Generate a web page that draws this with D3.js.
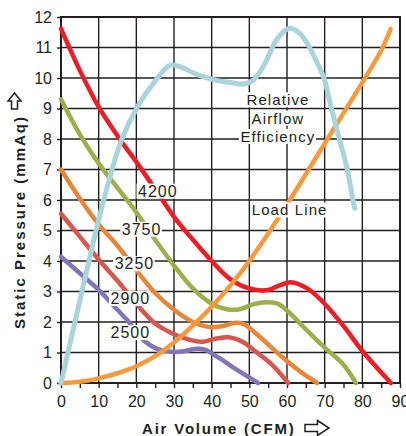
<!DOCTYPE html>
<html><head><meta charset="utf-8">
<script src="https://cdn.jsdelivr.net/npm/d3@7"></script>
<style>
html,body{margin:0;padding:0;background:#fff;}
svg{display:block;font-family:"Liberation Sans",Arial,Helvetica,sans-serif;}
</style></head><body>
<svg id="chart" width="406" height="436"></svg>
<script>
// ---------- data ----------
const xTickValues = [0,10,20,30,40,50,60,70,80,90];
const yTickValues = [0,1,2,3,4,5,6,7,8,9,10,11,12];
const speedLabels = ["4200","3750","3250","2900","2500"];

const curve4200 = [[0,11.62],[5,10.25],[10,9.05],[15,8.1],[20,7.25],[25,6.35],[30,5.45],[35,4.7],[40,4.0],[45,3.4],[50,3.1],[55,3.05],[58,3.2],[61,3.3],[63.5,3.22],[66,3.05],[70,2.6],[75,1.87],[80,1.05],[87.6,0]];
const curve3750 = [[0,9.3],[5,8.15],[10,7.2],[15,6.4],[20,5.6],[25,4.7],[30,3.85],[35,3.1],[40,2.6],[44,2.42],[47.5,2.42],[51,2.58],[54.5,2.65],[57.5,2.6],[60.5,2.32],[65,1.76],[70,1.16],[75,0.6],[78.3,0]];
const curve3250 = [[0,7.0],[5,6.05],[10,5.2],[15,4.5],[20,3.7],[25,2.95],[30,2.4],[35,2.0],[40,1.83],[43,1.87],[46,1.97],[48.5,1.93],[52,1.6],[56,1.15],[60,0.72],[64,0.33],[68,0]];
const curve2900 = [[0,5.55],[5,4.8],[10,4.05],[15,3.35],[20,2.6],[25,1.95],[30,1.6],[34,1.42],[37.5,1.35],[41,1.45],[44.5,1.5],[48.5,1.33],[52,1.0],[56,0.6],[60.3,0]];
const curve2500 = [[0,4.14],[5,3.6],[10,3.05],[15,2.4],[18,2.0],[21.5,1.45],[25.5,1.12],[30,1.02],[33,1.05],[36,1.12],[38.5,1.08],[40.5,0.93],[42.5,0.78],[45,0.57],[48,0.33],[52.3,0]];
const loadLine = [[0,0],[5,0.04],[10,0.15],[15,0.32],[20,0.55],[25,0.88],[30,1.33],[35,1.88],[40,2.5],[45,3.2],[50,4.0],[55,4.9],[60,5.85],[65,6.85],[70,7.85],[75,8.85],[80,9.85],[85,10.9],[87.5,11.6]];
const efficiency = [[0,0],[5,2.7],[10,5.35],[13,6.75],[16,7.95],[20.5,9.1],[25,9.9],[29,10.42],[32,10.35],[36,10.12],[41,9.93],[45,9.85],[48,9.8],[51,9.93],[54,10.45],[57.5,11.3],[60.7,11.63],[63.5,11.45],[66,11.0],[68,10.5],[69.8,10],[71.8,9],[73.9,8],[76,7],[77.5,6],[78,5.73]];

// label anchors (data units)
const speedLabelAt = [[25.7,6.3],[21.4,5.05],[19.5,3.92],[18.4,2.78],[18.4,1.66]];
const effLabelLines = ["Relative","Airflow","Efficiency"];
const effLabelAt = [[57.6,9.28],[57.6,8.68],[57.6,8.08]];
const loadLabel = "Load Line";
const loadLabelAt = [60.7,5.67];

// ---------- chart ----------
const svg = d3.select("#chart");
const x = d3.scaleLinear().domain([0,90]).range([61,400]);
const y = d3.scaleLinear().domain([0,12]).range([383,17]);
const ink = "#231f20";

// grid
const grid = svg.append("g");
grid.selectAll("line.v").data(xTickValues).join("line")
  .attr("x1",d=>x(d)).attr("x2",d=>x(d)).attr("y1",y(0)).attr("y2",y(12))
  .attr("stroke",ink).attr("stroke-width",1.4);
grid.selectAll("line.h").data(yTickValues).join("line")
  .attr("x1",x(0)).attr("x2",x(90)).attr("y1",d=>y(d)).attr("y2",d=>y(d))
  .attr("stroke",ink).attr("stroke-width",1.4);
svg.append("rect").attr("x",x(0)).attr("y",y(12)).attr("width",x(90)-x(0)).attr("height",y(0)-y(12))
  .attr("fill","none").attr("stroke",ink).attr("stroke-width",2);

// axes
const xAxis = d3.axisBottom(x).tickValues(d3.range(0,91,5)).tickSize(5).tickPadding(8)
  .tickFormat(d => d % 10 === 0 ? d : "");
const gx = svg.append("g").attr("transform",`translate(0,${y(0)})`).call(xAxis);
gx.select(".domain").remove();
gx.selectAll(".tick line").attr("stroke",ink).attr("stroke-width",1.4);
gx.selectAll(".tick text").attr("fill",ink).style("font-size","16px").style("font-family","Liberation Sans, Arial, sans-serif");

const yAxis = d3.axisLeft(y).tickValues(yTickValues).tickSize(4).tickPadding(5);
const gy = svg.append("g").attr("transform",`translate(${x(0)},0)`).call(yAxis);
gy.select(".domain").remove();
gy.selectAll(".tick line").attr("stroke",ink).attr("stroke-width",1.4);
gy.selectAll(".tick text").attr("fill",ink).style("font-size","16px").style("font-family","Liberation Sans, Arial, sans-serif");

// curves
const line = d3.line().x(d=>x(d[0])).y(d=>y(d[1])).curve(d3.curveCatmullRom.alpha(0.5));
const fanCurves = [
  {data: curve2500, color:"#8474b8"},
  {data: curve2900, color:"#d85650"},
  {data: curve3250, color:"#e6873b"},
  {data: curve3750, color:"#9bb04d"},
  {data: curve4200, color:"#ee1c24"}
];
const cg = svg.append("g");
fanCurves.forEach(c => {
  cg.append("path").attr("d",line(c.data)).attr("fill","none")
    .attr("stroke",c.color).attr("stroke-width",4.5).attr("stroke-linecap","round").attr("stroke-linejoin","round");
});
cg.append("path").attr("d",line(loadLine)).attr("fill","none")
  .attr("stroke","#f69a3b").attr("stroke-width",4.5).attr("stroke-linecap","round");
cg.append("path").attr("d",line(efficiency)).attr("fill","none")
  .attr("stroke","#a9d4dc").attr("stroke-width",5).attr("stroke-linecap","round").attr("stroke-linejoin","round");

// labels with white backgrounds
function boxedLabel(txt, px, py, size, ls){
  const g = svg.append("g");
  const r = g.append("rect").attr("fill","#fff");
  const t = g.append("text").attr("x",px).attr("y",py).attr("dy","0.36em")
    .attr("text-anchor","middle").attr("fill",ink)
    .style("font-size",size+"px").style("letter-spacing",ls+"px").text(txt);
  const b = t.node().getBBox();
  r.attr("x",b.x-1.5).attr("y",b.y+1).attr("width",b.width+2).attr("height",b.height-2);
}
speedLabels.forEach((s,i) => boxedLabel(s, x(speedLabelAt[i][0]), y(speedLabelAt[i][1]), 16, 1));
effLabelLines.forEach((s,i) => boxedLabel(s, x(effLabelAt[i][0]), y(effLabelAt[i][1]), 15, 1.1));
boxedLabel(loadLabel, x(loadLabelAt[0]), y(loadLabelAt[1]), 15, 1.1);

// axis titles
svg.append("text").attr("x",142).attr("y",433.5).attr("fill",ink)
  .style("font-size","15px").style("font-weight","bold").style("letter-spacing","1.8px")
  .text("Air Volume (CFM)");
svg.append("path")
  .attr("d","M305,424.5 H317.5 V420.5 L329,428 L317.5,435.5 V431.5 H305 Z")
  .attr("fill","#fff").attr("stroke",ink).attr("stroke-width",1.5).attr("stroke-linejoin","miter");

svg.append("text").attr("transform","translate(25,222) rotate(-90)").attr("text-anchor","middle")
  .attr("fill",ink).style("font-size","15px").style("font-weight","bold").style("letter-spacing","2px")
  .text("Static Pressure (mmAq)");
svg.append("path")
  .attr("d","M11.5,109 V101 H8 L14.5,93 L21,101 H17.5 V109 Z")
  .attr("fill","#fff").attr("stroke",ink).attr("stroke-width",1.5);
</script>
</body></html>
